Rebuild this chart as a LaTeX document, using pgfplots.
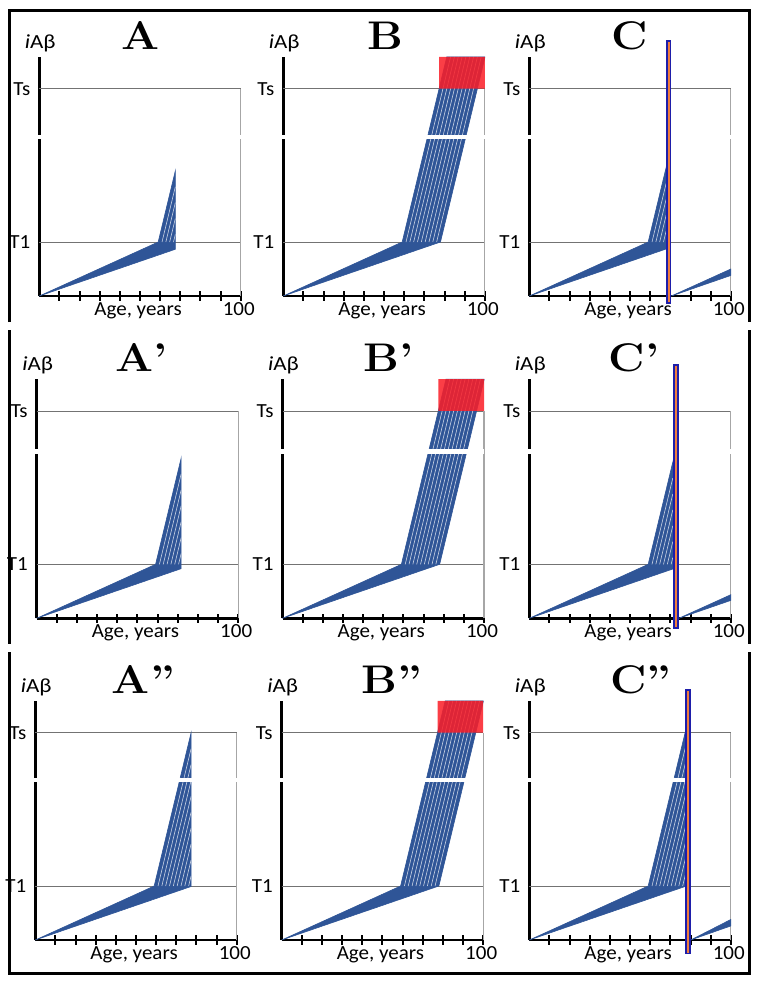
\documentclass[border=0pt]{standalone}
\usepackage{graphicx}
\usepackage{pgfplots}
\pgfplotsset{compat=1.18}
\usepackage{fontspec}
\newfontfamily\lab{Carlito}
\definecolor{fanblue}{RGB}{47,85,151}
\definecolor{boxred}{RGB}{250,30,40}
\definecolor{barorange}{RGB}{240,125,60}
\definecolor{barblue}{RGB}{30,30,170}
\newcommand{\labfont}{\lab\fontsize{10}{11}\selectfont}
\newcommand{\titlefont}{\fontsize{20}{22}\selectfont\bfseries}
\tikzset{
  fan/.style={fill=fanblue, draw=fanblue, line width=0.3pt},
  wl/.style={draw=white!75!fanblue, line width=0.3pt},
  gridl/.style={draw=black!55, line width=0.45pt},
  bordl/.style={draw=black!35, line width=0.6pt},
  bar/.style={fill=barorange, draw=barblue, line width=0.9pt, line cap=rect},
  redbox/.style={fill=boxred, fill opacity=0.86, draw=none},
}
\pgfplotsset{panel/.style={
  scale only axis, width=100.75pt, height=119.6pt,
  xmin=0, xmax=100, ymin=0, ymax=4.43,
  clip=false, anchor=south west,
  axis x line=bottom, axis y line=left,
  axis line style={-},
  x axis line style={line width=1.35pt},
  y axis line style={line width=1.5pt},
  xtick={10,20,30,40,50,60,70,80,90,100},
  xticklabels={},
  ytick=\empty,
  tick align=center,
  major tick length=4.6pt,
  every tick/.style={black, line width=1pt},
}}
\newcommand{\panelbase}[2]{%
  \addplot[gridl] coordinates {(0,1) (100,1)};
  \addplot[gridl] coordinates {(0,3.84) (100,3.84)};
  \addplot[bordl] coordinates {(100,0) (100,3.84)};
  \node[anchor=east, inner sep=0pt, font=\labfont, xshift=-4.3pt] at (axis cs:0,1) {\scalebox{1.05}[1]{T1}};
  \node[anchor=east, inner sep=0pt, font=\labfont, xshift=-4.3pt] at (axis cs:0,3.84) {\scalebox{1.05}[1]{Ts}};
  \node[anchor=base, inner sep=0pt, font=\labfont] at (axis cs:0.5,4.587) {\scalebox{1.15}[1]{{\itshape i}Aβ}};
  \node[anchor=base, inner sep=0pt, font=\labfont, yshift=-9.5pt] at (axis cs:49,0) {\scalebox{1.05}[1]{Age, years}};
  \node[anchor=base, inner sep=0pt, font=\labfont, yshift=-9.5pt] at (axis cs:99,0) {\scalebox{1.05}[1]{100}};
  \node[anchor=base, inner sep=0pt, font=\titlefont] at (axis cs:#2,4.57) {\scalebox{1.12}[1]{#1}};
}
\newcommand{\panelgap}[1]{%
  \addplot[draw=white, line width=2.2pt] coordinates {(-1.6,#1) (100,#1)};
}
\begin{document}
\begin{tikzpicture}
\useasboundingbox (0,0) rectangle (379.5pt,-491pt);
% outer frame
\draw[line width=1.5pt] (4.5pt,-161pt) -- (4.5pt,-5pt) -- (374.5pt,-5pt) -- (374.5pt,-161pt);
\draw[line width=1.5pt] (4.5pt,-165pt) -- (4.5pt,-322pt);
\draw[line width=1.5pt] (374.5pt,-165pt) -- (374.5pt,-322pt);
\draw[line width=1.5pt] (4.5pt,-326pt) -- (4.5pt,-486.5pt) -- (374.5pt,-486.5pt) -- (374.5pt,-326pt);

% ---------------- Row 1 ----------------
\begin{axis}[panel, at={(19.65pt,-148pt)}]
\panelbase{A}{50}
\addplot[fan] coordinates {(0,0) (59,1) (67.5,2.3175) (67.5,0.8654) (0,0)};
\addplot[wl] coordinates {(60.9,1) (67.5,2.023)};
\addplot[wl] coordinates {(62.8,1) (67.5,1.7285)};
\addplot[wl] coordinates {(64.7,1) (67.5,1.434)};
\addplot[wl] coordinates {(66.6,1) (67.5,1.1395)};
\panelgap{2.94}
\end{axis}

\begin{axis}[panel, at={(141.65pt,-148pt)}]
\panelbase{B}{50.5}
\addplot[fan] coordinates {(0,0) (59,1) (81.13,4.43) (100,4.43) (100,4.41) (78,1) (0,0)};
\addplot[wl] coordinates {(60.9,1) (83.03,4.43)};
\addplot[wl] coordinates {(62.8,1) (84.93,4.43)};
\addplot[wl] coordinates {(64.7,1) (86.83,4.43)};
\addplot[wl] coordinates {(66.6,1) (88.73,4.43)};
\addplot[wl] coordinates {(68.5,1) (90.63,4.43)};
\addplot[wl] coordinates {(70.4,1) (92.53,4.43)};
\addplot[wl] coordinates {(72.3,1) (94.43,4.43)};
\addplot[wl] coordinates {(74.2,1) (96.33,4.43)};
\addplot[wl] coordinates {(76.1,1) (98.23,4.43)};
\panelgap{2.94}
\addplot[redbox] coordinates {(77.32,3.84) (100,3.84) (100,4.43) (77.32,4.43) (77.32,3.84)};
\end{axis}

\begin{axis}[panel, at={(264.65pt,-148pt)}]
\panelbase{C}{50}
\addplot[fan] coordinates {(0,0) (59,1) (67.9,2.3795) (67.9,0.8705) (0,0)};
\addplot[wl] coordinates {(60.9,1) (67.9,2.085)};
\addplot[wl] coordinates {(62.8,1) (67.9,1.7905)};
\addplot[wl] coordinates {(64.7,1) (67.9,1.496)};
\addplot[wl] coordinates {(66.6,1) (67.9,1.2015)};
\addplot[fan] coordinates {(70.5,0) (100,0.50) (100,0.38) (70.5,0)};
\panelgap{2.94}
\addplot[bar] coordinates {(68.3,-0.13) (70.1,-0.13) (70.1,4.73) (68.3,4.73) (68.3,-0.13)};
\end{axis}

% ---------------- Row 2 ----------------
\begin{axis}[panel, at={(18.35pt,-309.15pt)}]
\panelbase{A’}{52}
\addplot[fan] coordinates {(0,0) (59,1) (71.7,2.9685) (71.7,0.9192) (0,0)};
\addplot[wl] coordinates {(60.9,1) (71.7,2.674)};
\addplot[wl] coordinates {(62.8,1) (71.7,2.3795)};
\addplot[wl] coordinates {(64.7,1) (71.7,2.085)};
\addplot[wl] coordinates {(66.6,1) (71.7,1.7905)};
\addplot[wl] coordinates {(68.5,1) (71.7,1.496)};
\addplot[wl] coordinates {(70.4,1) (71.7,1.2015)};
\panelgap{3.09}
\end{axis}

\begin{axis}[panel, at={(141.25pt,-309.15pt)}]
\panelbase{B’}{52.5}
\addplot[fan] coordinates {(0,0) (59,1) (81.13,4.43) (100,4.43) (100,4.41) (78,1) (0,0)};
\addplot[wl] coordinates {(60.9,1) (83.03,4.43)};
\addplot[wl] coordinates {(62.8,1) (84.93,4.43)};
\addplot[wl] coordinates {(64.7,1) (86.83,4.43)};
\addplot[wl] coordinates {(66.6,1) (88.73,4.43)};
\addplot[wl] coordinates {(68.5,1) (90.63,4.43)};
\addplot[wl] coordinates {(70.4,1) (92.53,4.43)};
\addplot[wl] coordinates {(72.3,1) (94.43,4.43)};
\addplot[wl] coordinates {(74.2,1) (96.33,4.43)};
\addplot[wl] coordinates {(76.1,1) (98.23,4.43)};
\panelgap{3.09}
\addplot[redbox] coordinates {(77.32,3.84) (100,3.84) (100,4.43) (77.32,4.43) (77.32,3.84)};
\end{axis}

\begin{axis}[panel, at={(264.65pt,-309.15pt)}]
\panelbase{C’}{52}
\addplot[fan] coordinates {(0,0) (59,1) (71.2,2.891) (71.2,0.9128) (0,0)};
\addplot[wl] coordinates {(60.9,1) (71.2,2.5965)};
\addplot[wl] coordinates {(62.8,1) (71.2,2.302)};
\addplot[wl] coordinates {(64.7,1) (71.2,2.0075)};
\addplot[wl] coordinates {(66.6,1) (71.2,1.713)};
\addplot[wl] coordinates {(68.5,1) (71.2,1.4185)};
\addplot[wl] coordinates {(70.4,1) (71.2,1.124)};
\addplot[fan] coordinates {(74.2,0) (100,0.437) (100,0.331) (74.2,0)};
\panelgap{3.09}
\addplot[bar] coordinates {(71.7,-0.185) (73.7,-0.185) (73.7,4.69) (71.7,4.69) (71.7,-0.185)};
\end{axis}

% ---------------- Row 3 ----------------
\begin{axis}[panel, at={(17.65pt,-470pt)}]
\panelbase{A”}{53.6}
\addplot[fan] coordinates {(0,0) (59,1) (77.3,3.8365) (77.3,0.991) (0,0)};
\addplot[wl] coordinates {(60.9,1) (77.3,3.542)};
\addplot[wl] coordinates {(62.8,1) (77.3,3.2475)};
\addplot[wl] coordinates {(64.7,1) (77.3,2.953)};
\addplot[wl] coordinates {(66.6,1) (77.3,2.6585)};
\addplot[wl] coordinates {(68.5,1) (77.3,2.364)};
\addplot[wl] coordinates {(70.4,1) (77.3,2.0695)};
\addplot[wl] coordinates {(72.3,1) (77.3,1.775)};
\addplot[wl] coordinates {(74.2,1) (77.3,1.4805)};
\addplot[wl] coordinates {(76.1,1) (77.3,1.186)};
\panelgap{2.96}
\end{axis}

\begin{axis}[panel, at={(140.85pt,-470pt)}]
\panelbase{B”}{54.5}
\addplot[fan] coordinates {(0,0) (59,1) (81.13,4.43) (100,4.43) (100,4.41) (78,1) (0,0)};
\addplot[wl] coordinates {(60.9,1) (83.03,4.43)};
\addplot[wl] coordinates {(62.8,1) (84.93,4.43)};
\addplot[wl] coordinates {(64.7,1) (86.83,4.43)};
\addplot[wl] coordinates {(66.6,1) (88.73,4.43)};
\addplot[wl] coordinates {(68.5,1) (90.63,4.43)};
\addplot[wl] coordinates {(70.4,1) (92.53,4.43)};
\addplot[wl] coordinates {(72.3,1) (94.43,4.43)};
\addplot[wl] coordinates {(74.2,1) (96.33,4.43)};
\addplot[wl] coordinates {(76.1,1) (98.23,4.43)};
\panelgap{2.96}
\addplot[redbox] coordinates {(77.32,3.84) (100,3.84) (100,4.43) (77.32,4.43) (77.32,3.84)};
\end{axis}

\begin{axis}[panel, at={(264.65pt,-470pt)}]
\panelbase{C”}{55.3}
\addplot[fan] coordinates {(0,0) (59,1) (77.4,3.852) (77.4,0.992) (0,0)};
\addplot[wl] coordinates {(60.9,1) (77.4,3.5575)};
\addplot[wl] coordinates {(62.8,1) (77.4,3.263)};
\addplot[wl] coordinates {(64.7,1) (77.4,2.9685)};
\addplot[wl] coordinates {(66.6,1) (77.4,2.674)};
\addplot[wl] coordinates {(68.5,1) (77.4,2.3795)};
\addplot[wl] coordinates {(70.4,1) (77.4,2.085)};
\addplot[wl] coordinates {(72.3,1) (77.4,1.7905)};
\addplot[wl] coordinates {(74.2,1) (77.4,1.496)};
\addplot[wl] coordinates {(76.1,1) (77.4,1.2015)};
\addplot[fan] coordinates {(80.1,0) (100,0.38) (100,0.26) (80.1,0)};
\panelgap{2.96}
\addplot[bar] coordinates {(77.8,-0.25) (79.7,-0.25) (79.7,4.63) (77.8,4.63) (77.8,-0.25)};
\end{axis}
\end{tikzpicture}
\end{document}
